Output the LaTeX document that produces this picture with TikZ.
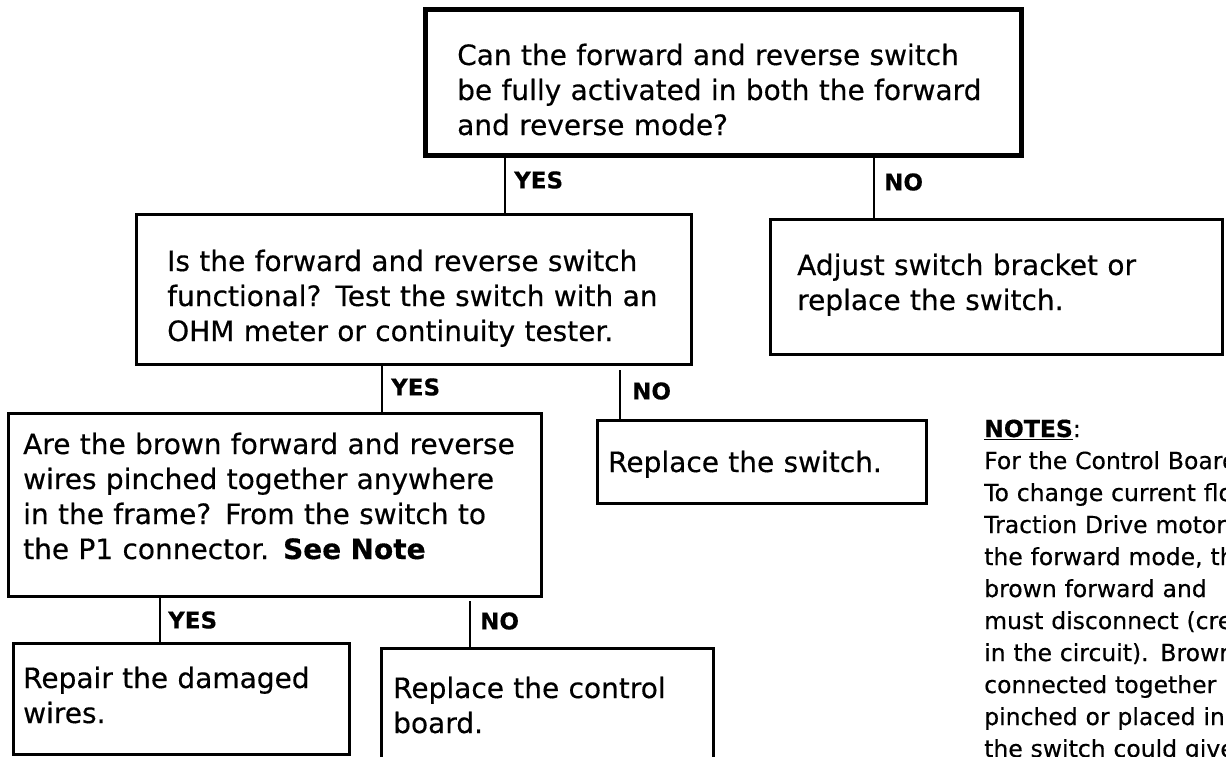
\documentclass[tikz,border=0pt]{standalone}
\usepackage{fontspec}
\setmainfont[FakeBold=0.4]{DejaVu Sans}
\begin{document}
\begin{tikzpicture}[x=1pt,y=-1pt,
  box/.style={draw, line width=3pt, inner sep=0pt, anchor=north west},
  txt/.style={inner sep=0pt, anchor=base west, align=left, text width=600pt, font=\fontsize{28}{35}\selectfont},
  lab/.style={inner sep=0pt, anchor=west, font=\fontsize{23}{26}\selectfont\bfseries},
  conn/.style={line width=2.4pt},
  notestxt/.style={inner sep=0pt, anchor=base west, align=left, text width=400pt, font=\fontsize{23.5}{32}\selectfont}]
\useasboundingbox (0,0) rectangle (1226,756);
\clip (0,0) rectangle (1226,756);
% boxes
\node[box, line width=4.5pt, minimum width=596pt, minimum height=146pt] (b1) at (423,7) {};
\node[box, minimum width=555pt, minimum height=150pt] (b2) at (135,213) {};
\node[box, minimum width=452pt, minimum height=135pt] (b3) at (769,218) {};
\node[box, minimum width=533pt, minimum height=183pt] (b4) at (7,412) {};
\node[box, minimum width=329pt, minimum height=83pt] (b5) at (596,419) {};
\node[box, minimum width=336pt, minimum height=111pt] (b6) at (12,642) {};
\node[box, minimum width=332pt, minimum height=150pt] (b7) at (380,647) {};
% texts
\node[txt] (t1) at (457,65) {Can the forward and reverse switch\\be fully activated in both the forward\\and reverse mode?};
\node[txt] (t2) at (167,271) {Is the forward and reverse switch\\functional? Test the switch with an\\OHM meter or continuity tester.};
\node[txt] (t3) at (797,275) {Adjust switch bracket or\\replace the switch.};
\node[txt] (t4) at (23,454) {Are the brown forward and reverse\\wires pinched together anywhere\\in the frame? From the switch to\\the P1 connector. \textbf{See Note}};
\node[txt] (t5) at (608,472) {Replace the switch.};
\node[txt] (t6) at (23,688) {Repair the damaged\\wires.};
\node[txt] (t7) at (393,698) {Replace the control\\board.};
% connector positions
\coordinate (x1) at (505,0);
\coordinate (x2) at (874,0);
\coordinate (x3) at (382,0);
\coordinate (x4) at (620,0);
\coordinate (x5) at (160,0);
\coordinate (x6) at (470,0);
\draw[conn] (b1.south -| x1) -- (b2.north -| x1);
\draw[conn] (b1.south -| x2) -- (b3.north -| x2);
\draw[conn] (b2.south -| x3) -- (b4.north -| x3);
\draw[conn] ([yshift=-4pt]b2.south -| x4) -- (b5.north -| x4);
\draw[conn] (b4.south -| x5) -- (b6.north -| x5);
\draw[conn] ([yshift=-3pt]b4.south -| x6) -- (b7.north -| x6);
% labels
\node[lab] (l1) at (514,180) {YES};
\node[lab] (l2) at (884,182) {NO};
\node[lab] (l3) at (391,387) {YES};
\node[lab] (l4) at (632,391) {NO};
\node[lab] (l5) at (168,620) {YES};
\node[lab] (l6) at (480,621) {NO};
% notes
\node[notestxt] (n1) at (984,437) {\textbf{\underline{NOTES}}:\\For the Control Board\\To change current flow\\Traction Drive motor in\\the forward mode, the\\brown forward and\\must disconnect (create\\in the circuit). Brown\\connected together\\pinched or placed in\\the switch could give};
\end{tikzpicture}
\end{document}
